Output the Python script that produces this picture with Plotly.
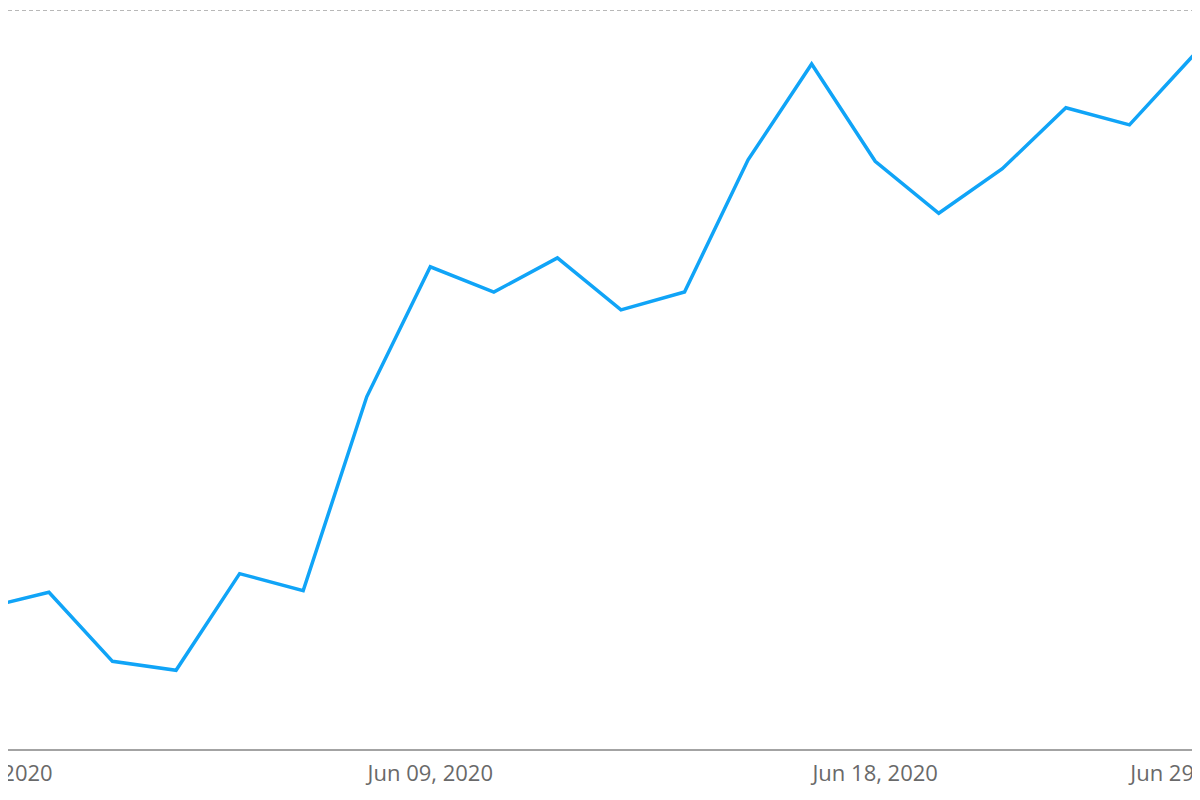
import plotly.graph_objects as go

# trading days shown on the chart
dates = ["2020-05-29", "2020-06-01", "2020-06-02", "2020-06-03", "2020-06-04",
         "2020-06-05", "2020-06-08", "2020-06-09", "2020-06-10", "2020-06-11",
         "2020-06-12", "2020-06-15", "2020-06-16", "2020-06-17", "2020-06-18",
         "2020-06-19", "2020-06-22", "2020-06-24", "2020-06-26", "2020-06-29"]
values = [319.0, 321.1, 311.8, 310.6, 323.6, 321.3, 347.4, 364.9, 361.5, 366.1,
          359.1, 361.5, 379.3, 392.2, 379.1, 372.1, 378.1, 386.3, 384.0, 393.3]

tick_idx = [7, 14, 19]
tick_text = ["Jun 09, 2020", "Jun 18, 2020", "Jun 29, 2020"]
first_label = "May 29, 2020"

y_min, y_max = 300, 399.73
grid_val = 399.45   # kept just inside the top edge so plotly still draws it

# visible window starts a little after the first point
x_start = 0.356
x_end = len(dates) - 1

fig = go.Figure(go.Scatter(x=dates, y=values, mode="lines",
                           line=dict(color="#10A4F7", width=3.5)))

# page body adds 8px, so the figure is 8px smaller than the window
fig.update_layout(
    width=1192, height=792,
    margin=dict(l=0, r=7, t=0, b=51),
    plot_bgcolor="white", paper_bgcolor="white",
    showlegend=False,
    font=dict(family="Open Sans, Noto Sans, sans-serif", size=22, color="#696969"),
)

fig.update_xaxes(
    type="category", range=[x_start, x_end], autorange=False,
    tickvals=[dates[i] for i in tick_idx], ticktext=tick_text,
    showgrid=False, showline=True, linecolor="#a3a3a3", linewidth=1.5,
    ticks="", ticklabelstandoff=4, ticklabeloverflow="allow", automargin=False,
)
fig.update_yaxes(
    range=[y_min, y_max], autorange=False,
    tickvals=[grid_val], showticklabels=False,
    showgrid=True, gridcolor="#b8b8b8", griddash="4px,3px", gridwidth=1,
    zeroline=False, showline=False, automargin=False,
)

# label of the first point sits left of the visible plot area
fig.add_annotation(text=first_label, xref="paper", yref="paper",
                   x=(0 - x_start) / (x_end - x_start), y=0, yshift=-23,
                   showarrow=False, xanchor="center", yanchor="middle",
                   font=dict(size=22, color="#696969"))

fig.write_html("out.html")
